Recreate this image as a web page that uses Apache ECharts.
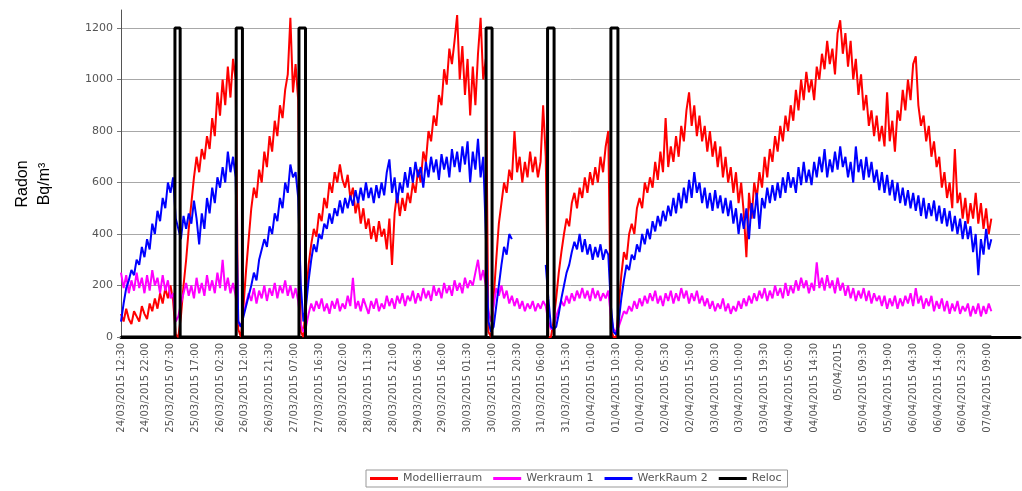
<!DOCTYPE html>
<html>
<head>
<meta charset="utf-8">
<script src="https://cdn.jsdelivr.net/npm/echarts@6/dist/echarts.min.js"></script>
<style>
html, body { margin: 0; padding: 0; background: #fff; }
#chart { width: 1022px; height: 491px; }
</style>
</head>
<body>
<div id="chart"></div>
<script>
// hourly readings, first sample 24/03/2015 12:30
const startTime = Date.UTC(2015, 2, 24, 12, 30);
const stepHours = 1;

const modellierraum = [
  90, 60, 110, 70, 50, 100, 80, 60, 120, 90,
  70, 130, 100, 150, 110, 170, 130, 190, 150, 200,
  140, 10, 0, 80, 200, 300, 420, 520, 620, 700,
  640, 730, 690, 780, 730, 850, 780, 950, 860, 1000,
  900, 1050, 930, 1080, 1000, 30, 0, 120, 260, 380,
  500, 580, 540, 650, 600, 720, 660, 780, 720, 840,
  780, 900, 850, 960, 1020, 1240, 950, 1060, 920, 20,
  0, 150, 280, 360, 420, 390, 480, 450, 540, 500,
  600, 560, 640, 600, 670, 610, 580, 630, 540, 580,
  480, 530, 440, 500, 420, 460, 380, 430, 370, 450,
  390, 420, 340, 460, 280, 480, 560, 470, 540, 490,
  560, 520, 600, 560, 650, 600, 720, 680, 800, 760,
  860, 820, 940, 900, 1040, 980, 1120, 1060, 1150, 1250,
  1000, 1130, 940, 1080, 860, 1050, 900, 1100, 1240, 1000,
  1080, 20, 0, 150, 300, 440, 520, 600, 560, 650,
  610, 800, 640, 700, 600, 680, 620, 720, 640, 700,
  620, 680, 900, 700, 0, 0, 60, 150, 250, 330,
  400, 460, 430, 520, 560, 500, 580, 540, 620, 560,
  640, 590, 660, 600, 700, 640, 740, 800, 30, 0,
  0, 120, 240, 330, 300, 400, 440, 400, 500, 540,
  500, 600, 560, 620, 580, 680, 610, 720, 640, 850,
  660, 740, 680, 780, 700, 820, 760, 880, 950, 820,
  900, 780, 860, 760, 820, 720, 800, 700, 760, 660,
  740, 620, 700, 600, 660, 560, 640, 520, 600, 480,
  310, 560, 460, 600, 540, 640, 580, 700, 620, 730,
  680, 780, 720, 820, 760, 860, 800, 900, 840, 960,
  880, 1000, 920, 1030, 950, 1000, 920, 1050, 1000, 1100,
  1040, 1150, 1060, 1120, 1020, 1180, 1230, 1100, 1180, 1050,
  1150, 1000, 1080, 940, 1020, 880, 940, 820, 880, 780,
  860, 760, 820, 740, 950, 760, 840, 720, 880, 840,
  960, 880, 1000, 920, 1060, 1090, 900, 820, 860, 760,
  820, 700, 760, 660, 700, 580, 640, 540, 600, 500,
  730, 520, 560, 460, 540, 440, 520, 460, 560, 440,
  520, 420, 500, 400, 460
];

const werkraum1 = [
  250, 190, 240, 170, 220, 180, 250, 190, 230, 170,
  240, 180, 260, 200, 230, 170, 240, 180, 220, 150,
  170, 60, 80, 130, 170, 210, 160, 200, 150, 230,
  170, 210, 160, 240, 180, 220, 170, 250, 190, 300,
  180, 230, 170, 210, 160, 60, 40, 90, 130, 170,
  140, 190, 130, 180, 150, 200, 140, 190, 160, 210,
  150, 200, 170, 220, 160, 200, 150, 190, 140, 50,
  20, 40, 90, 130, 100, 140, 110, 150, 100, 130,
  90, 140, 110, 150, 100, 130, 110, 160, 120, 230,
  110, 140, 100, 150, 120, 90, 140, 110, 150, 100,
  130, 110, 160, 120, 150, 110, 160, 130, 170, 120,
  160, 140, 180, 130, 170, 140, 190, 150, 180, 140,
  200, 160, 190, 150, 210, 170, 200, 160, 220, 180,
  210, 170, 230, 190, 220, 200, 250, 300, 220, 260,
  200, 100, 60, 120, 190, 160, 200, 150, 180, 130,
  160, 120, 150, 110, 140, 100, 130, 110, 140, 100,
  130, 110, 140, 120, 60, 30, 40, 80, 110, 140,
  120, 160, 130, 170, 140, 180, 150, 190, 150, 180,
  140, 190, 150, 180, 140, 170, 150, 180, 80, 30,
  20, 40, 70, 100, 90, 120, 100, 140, 110, 150,
  120, 160, 130, 170, 140, 180, 130, 160, 120, 170,
  140, 180, 130, 170, 140, 190, 150, 180, 130, 170,
  140, 180, 130, 160, 120, 150, 110, 140, 100, 130,
  110, 150, 100, 130, 90, 120, 100, 140, 110, 150,
  120, 160, 130, 170, 140, 180, 150, 190, 140, 180,
  150, 200, 160, 190, 150, 210, 160, 200, 170, 220,
  180, 230, 190, 220, 170, 210, 180, 290, 190, 230,
  180, 240, 190, 220, 170, 230, 180, 210, 160, 200,
  150, 190, 140, 180, 150, 190, 140, 180, 130, 170,
  140, 160, 120, 160, 110, 150, 120, 160, 110, 150,
  120, 160, 130, 170, 120, 190, 130, 160, 110, 150,
  120, 160, 100, 140, 110, 150, 100, 140, 90, 130,
  100, 140, 90, 120, 100, 130, 80, 120, 90, 130,
  80, 120, 90, 130, 100
];

// null = no reading (gap on 30/03)
const werkRaum2 = [
  60, 130, 190, 220, 260, 240, 300, 280, 350, 310,
  380, 340, 440, 400, 490, 450, 540, 500, 600, 560,
  620, 460, 420, 380, 470, 420, 480, 440, 530, 460,
  360, 480, 420, 540, 480, 580, 520, 620, 580, 660,
  600, 720, 640, 700, 620, 60, 40, 80, 120, 160,
  200, 250, 220, 300, 340, 380, 350, 430, 400, 480,
  450, 540, 500, 600, 560, 670, 620, 640, 540, 200,
  60, 120, 220, 300, 360, 330, 400, 380, 440, 420,
  480, 440, 500, 470, 530, 480, 540, 500, 550, 510,
  570, 520, 580, 530, 600, 540, 580, 520, 590, 540,
  600, 550, 640, 690, 560, 620, 520, 600, 560, 640,
  580, 660, 600, 680, 620, 660, 580, 680, 620, 700,
  640, 690, 610, 710, 650, 700, 620, 730, 660, 720,
  640, 740, 670, 760, 600, 720, 650, 770, 620, 700,
  400, 60, 20, 40, 120, 200, 280, 350, 320, 400,
  380, null, null, null, null, null, null, null, null, null,
  null, null, null, 280, 150, 40, 30, 40, 90, 150,
  200, 250, 280, 330, 370, 340, 400, 330, 380, 320,
  360, 300, 350, 310, 360, 300, 340, 320, 120, 20,
  10, 60, 150, 220, 280, 260, 320, 300, 360, 330,
  400, 360, 420, 380, 450, 410, 470, 430, 490, 450,
  510, 470, 540, 480, 560, 500, 580, 520, 610, 540,
  640, 560, 600, 520, 580, 500, 560, 490, 570, 500,
  550, 480, 540, 470, 530, 440, 500, 400, 480, 420,
  500, 380, 520, 460, 560, 420, 540, 500, 580, 520,
  590, 530, 600, 540, 620, 560, 640, 580, 620, 560,
  660, 590, 680, 600, 650, 590, 680, 620, 700, 640,
  730, 620, 690, 640, 720, 650, 740, 660, 700, 620,
  680, 600, 740, 640, 690, 610, 700, 620, 680, 600,
  650, 570, 640, 560, 630, 550, 610, 530, 600, 520,
  580, 510, 570, 500, 560, 490, 550, 470, 540, 460,
  520, 470, 530, 450, 510, 440, 500, 430, 490, 410,
  470, 400, 460, 380, 450, 380, 430, 330, 400, 240,
  380, 320, 420, 340, 380
];

// detector relocations (hours from start)
const relocStart = [20.7, 44.2, 68.3, 140.1, 163.7, 188.0];
const relocEnd = [22.7, 46.6, 70.8, 142.4, 166.2, 190.7];
const relocLevel = 1200;
const lastHour = 334;

function toPairs(values) {
  return values.map((v, i) => [i * stepHours, v]);
}

function relocPairs() {
  const out = [[0, 0]];
  relocStart.forEach((s, i) => {
    out.push([s, 0], [s, relocLevel], [relocEnd[i], relocLevel], [relocEnd[i], 0]);
  });
  out.push([lastHour, 0]);
  return out;
}

function pad(n) { return String(n).padStart(2, '0'); }

function fmtTick(h) {
  if (h > 333) return '';
  const d = new Date(startTime + Math.round(h * 60) * 60000);
  const date = pad(d.getUTCDate()) + '/' + pad(d.getUTCMonth() + 1) + '/' + d.getUTCFullYear();
  if (d.getUTCHours() === 0 && d.getUTCMinutes() === 0) return date;
  return date + ' ' + pad(d.getUTCHours()) + ':' + pad(d.getUTCMinutes());
}

function lineSeries(name, values, color) {
  return {
    name: name,
    type: 'line',
    data: toPairs(values),
    showSymbol: false,
    symbol: 'none',
    connectNulls: false,
    lineStyle: { width: 2, color: color },
    itemStyle: { color: color }
  };
}

const chart = echarts.init(document.getElementById('chart'));
chart.setOption({
  animation: false,
  grid: { left: 121, right: 2, top: 10, bottom: 154 },
  graphic: [{
    type: 'text',
    x: 34,
    y: 184,
    rotation: Math.PI / 2,
    style: {
      text: 'Radon\nBq/m³',
      fontSize: 16,
      fontFamily: 'Liberation Sans',
      lineHeight: 22,
      fill: '#000',
      align: 'center',
      verticalAlign: 'middle'
    }
  }],
  legend: {
    left: 366,
    top: 470,
    itemWidth: 28,
    itemHeight: 3,
    itemGap: 11,
    icon: 'rect',
    borderColor: '#999',
    borderWidth: 1,
    padding: [3, 6, 3, 4],
    textStyle: { fontSize: 11, color: '#555', fontFamily: 'DejaVu Sans' },
    data: ['Modellierraum', 'Werkraum 1', 'WerkRaum 2', 'Reloc']
  },
  xAxis: {
    type: 'value',
    min: 0,
    max: 345,
    interval: 9.5,
    axisLine: { lineStyle: { color: '#000', width: 3 } },
    axisTick: { show: false },
    splitLine: { show: false },
    axisLabel: {
      rotate: 90,
      fontSize: 10,
      color: '#555',
      fontFamily: 'DejaVu Sans',
      margin: 6,
      showMaxLabel: false,
      formatter: fmtTick
    }
  },
  yAxis: {
    type: 'value',
    min: 0,
    max: 1270,
    interval: 200,
    axisLine: { show: true, lineStyle: { color: '#555' } },
    axisTick: { show: true, length: 4, lineStyle: { color: '#777' } },
    axisLabel: {
      fontSize: 11,
      color: '#555',
      fontFamily: 'DejaVu Sans',
      margin: 8,
      showMaxLabel: false,
      formatter: v => String(v)
    },
    splitLine: { lineStyle: { color: '#a8a8a8' }, showMaxLine: false }
  },
  series: [
    lineSeries('Modellierraum', modellierraum, '#ff0000'),
    lineSeries('Werkraum 1', werkraum1, '#ff00ff'),
    lineSeries('WerkRaum 2', werkRaum2, '#0000ff'),
    {
      name: 'Reloc',
      type: 'line',
      data: relocPairs(),
      showSymbol: false,
      symbol: 'none',
      lineStyle: { width: 3, color: '#000' },
      itemStyle: { color: '#000' }
    }
  ]
});
</script>
</body>
</html>
